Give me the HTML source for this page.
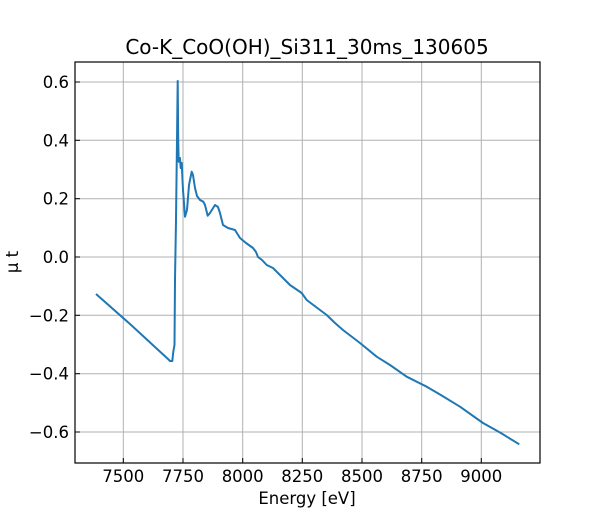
<!DOCTYPE html>
<html><head><meta charset="utf-8"><style>body{margin:0;background:#fff}svg{display:block;font-family:"DejaVu Sans","Liberation Sans",sans-serif}</style></head><body>
<svg width="600" height="520" viewBox="0 0 600 520">
<rect width="600" height="520" fill="#fff"/>
<g stroke="#b0b0b0" stroke-width="1">
<line x1="123.3" y1="62" x2="123.3" y2="463"/><line x1="183" y1="62" x2="183" y2="463"/><line x1="242.7" y1="62" x2="242.7" y2="463"/><line x1="302.3" y1="62" x2="302.3" y2="463"/><line x1="362" y1="62" x2="362" y2="463"/><line x1="421.7" y1="62" x2="421.7" y2="463"/><line x1="481.3" y1="62" x2="481.3" y2="463"/>
<line x1="75" y1="82" x2="540" y2="82"/><line x1="75" y1="140.3" x2="540" y2="140.3"/><line x1="75" y1="198.7" x2="540" y2="198.7"/><line x1="75" y1="257" x2="540" y2="257"/><line x1="75" y1="315.3" x2="540" y2="315.3"/><line x1="75" y1="373.7" x2="540" y2="373.7"/><line x1="75" y1="432" x2="540" y2="432"/>
</g>
<polyline fill="none" stroke="#1f77b4" stroke-width="2" stroke-linejoin="round" points="96,294 130,324 168,359 170,361 172.3,361 173.3,351.7 174.5,345 175,280 176,220 177,140 177.7,81 178.2,140 178.7,161.7 180,158 180.7,168 181.7,163 183,190 185,216.7 187,210 189,185 191.7,171.7 193,175 195,188 197,196 200,200 203.3,201.7 205,205 207.7,215.7 210,213 215,205 218,207 220,213 223,225 228,228 235,230 240,238 246,243 253,248 256,252 258,257 262,260 266.7,265 273,268 280,275 290,285 301.7,293 306.7,300 316,307 326.7,315 335,323 343,330 360,343 376.7,356.7 390,365 406.7,376.7 426.7,386.7 440,394.5 460,406.7 483,423 500,432.5 519.3,444.3"/>
<g stroke="#000" stroke-width="1">
<line x1="123.3" y1="463" x2="123.3" y2="458"/><line x1="183" y1="463" x2="183" y2="458"/><line x1="242.7" y1="463" x2="242.7" y2="458"/><line x1="302.3" y1="463" x2="302.3" y2="458"/><line x1="362" y1="463" x2="362" y2="458"/><line x1="421.7" y1="463" x2="421.7" y2="458"/><line x1="481.3" y1="463" x2="481.3" y2="458"/>
<line x1="75" y1="82" x2="80" y2="82"/><line x1="75" y1="140.3" x2="80" y2="140.3"/><line x1="75" y1="198.7" x2="80" y2="198.7"/><line x1="75" y1="257" x2="80" y2="257"/><line x1="75" y1="315.3" x2="80" y2="315.3"/><line x1="75" y1="373.7" x2="80" y2="373.7"/><line x1="75" y1="432" x2="80" y2="432"/>
</g>
<rect x="75" y="62" width="465" height="401" fill="none" stroke="#000" stroke-width="1.2"/>
<g font-size="16.5" fill="#000" text-anchor="middle">
<text x="123.3" y="482">7500</text><text x="183" y="482">7750</text><text x="242.7" y="482">8000</text><text x="302.3" y="482">8250</text><text x="362" y="482">8500</text><text x="421.7" y="482">8750</text><text x="481.3" y="482">9000</text>
</g>
<g font-size="16.5" fill="#000" text-anchor="end">
<text x="69" y="88">0.6</text><text x="69" y="146.3">0.4</text><text x="69" y="204.7">0.2</text><text x="69" y="263">0.0</text><text x="69" y="321.3">−0.2</text><text x="69" y="379.7">−0.4</text><text x="69" y="438">−0.6</text>
</g>
<text x="307" y="504" font-size="16.5" text-anchor="middle">Energy [eV]</text>
<text transform="translate(18,262) rotate(-90)" font-size="16.5" text-anchor="middle">μ t</text>
<text x="307" y="54" font-size="20" text-anchor="middle">Co-K_CoO(OH)_Si311_30ms_130605</text>
</svg>
</body></html>
